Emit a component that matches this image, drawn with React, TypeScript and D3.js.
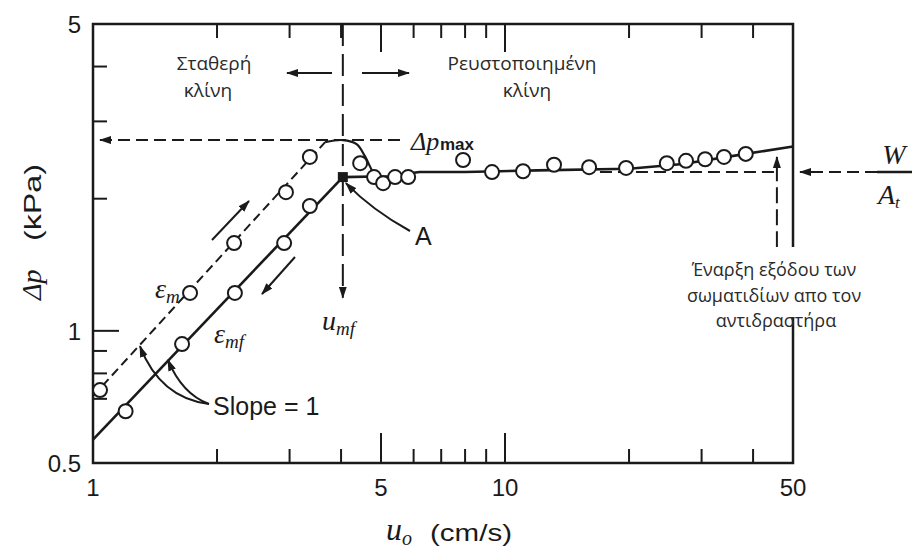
import React from "react";
import * as d3 from "d3";

const WIDTH = 912;
const HEIGHT = 551;

// axes (log-log)
const uDomain: [number, number] = [1, 50];
const dpDomain: [number, number] = [0.5, 5];
const uTickLabels = [1, 5, 10, 50];
const uTicksLong = [5, 10];
const uTicksShort = [2, 3, 4, 6, 7, 8, 9, 20, 30, 40];
const dpTickLabels = [0.5, 1, 5];
const dpTicksLong = [1];
const dpTicksShort = [0.7, 0.8, 0.9, 2, 3, 4];

// fixed bed, increasing velocity (eps_m)
const upU = [1.04, 1.72, 2.2, 2.94, 3.36];
const upDp = [0.733, 1.22, 1.585, 2.07, 2.49];
const upLineU = [1, 3.66];
const upLineDp = [0.71, 2.69];

// fixed bed, decreasing velocity (eps_mf)
const downU = [1.2, 1.645, 2.21, 2.91, 3.36];
const downDp = [0.656, 0.933, 1.22, 1.585, 1.925];
const downLineU = [1, 4.04];
const downLineDp = [0.565, 2.24];

// point A (minimum fluidization)
const umf = 4.04;
const dpA = 2.24;
const dpMax = 2.72;

// pressure overshoot near u_mf
const peakU = [3.66, 4.04, 4.37, 4.57, 4.81, 5.06, 5.41, 5.9];
const peakDp = [2.69, 2.72, 2.66, 2.5, 2.28, 2.18, 2.22, 2.25];

// fluidized bed
const fluidU = [4.45, 4.81, 5.06, 5.41, 5.82, 7.91, 9.3, 11.06, 13.15, 16.0, 19.67, 24.7, 27.5, 30.6, 34.0, 38.4];
const fluidDp = [2.41, 2.24, 2.17, 2.24, 2.24, 2.45, 2.3, 2.31, 2.39, 2.36, 2.35, 2.41, 2.44, 2.46, 2.49, 2.53];
const fluidLineU = [4.04, 5.2, 6.2, 8, 12, 20, 27, 38.4, 50];
const fluidLineDp = [2.24, 2.25, 2.3, 2.3, 2.32, 2.34, 2.4, 2.53, 2.63];

// W/A_t level and onset of carryover
const wOverA = 2.3;
const wLineU = [17, 45.7];
const onsetU = 45.7;
const onsetDp = [1.55, 2.49];

const zip = (a: number[], b: number[]): [number, number][] => a.map((v, i) => [v, b[i]]);

const sans = "'Liberation Sans', Arial, sans-serif";
const serif = "'Liberation Serif', 'Times New Roman', serif";
const greek = "'Open Sans', 'Noto Sans', sans-serif";
const ink = "#1a1a1a";

export default function App() {
  const x = d3.scaleLog().domain(uDomain).range([93, 793]);
  const y = d3.scaleLog().domain(dpDomain).range([463, 24]);
  const line = d3.line<[number, number]>().x(d => x(d[0])).y(d => y(d[1]));
  const smooth = d3
    .line<[number, number]>()
    .x(d => x(d[0]))
    .y(d => y(d[1]))
    .curve(d3.curveCatmullRom);

  const [x0, x1] = x.range();
  const [yb, yt] = y.range();

  // slope arrow targets on the two lines
  const slopeUpTip = [x(1.3), y(0.71 * 1.3)];
  const slopeDownTip = [x(1.52), y(0.565 * 1.52)];

  return (
    <svg
      width={WIDTH}
      height={HEIGHT}
      style={{ position: "absolute", left: 0, top: 0, background: "#fff" }}
    >
      <defs>
        <marker
          id="ah"
          viewBox="0 0 12 8"
          refX="11"
          refY="4"
          markerWidth="12"
          markerHeight="8"
          markerUnits="userSpaceOnUse"
          orient="auto"
        >
          <path d="M0,0 L12,4 L0,8 z" fill={ink} />
        </marker>
      </defs>
      <rect width={WIDTH} height={HEIGHT} fill="#fff" />

      {/* frame */}
      <rect x={x0} y={yt} width={x1 - x0} height={yb - yt} fill="none" stroke={ink} strokeWidth={2.5} />

      {/* x ticks, bottom and top */}
      <g stroke={ink} strokeWidth={2}>
        {uTicksShort.map(t => (
          <g key={"us" + t}>
            <line x1={x(t)} x2={x(t)} y1={yb} y2={yb - 14} />
            <line x1={x(t)} x2={x(t)} y1={yt} y2={yt + 14} />
          </g>
        ))}
        {uTicksLong.map(t => (
          <g key={"ul" + t}>
            <line x1={x(t)} x2={x(t)} y1={yb} y2={yb - 30} />
            <line x1={x(t)} x2={x(t)} y1={yt} y2={yt + 28} />
          </g>
        ))}
        {dpTicksShort.map(t => (
          <line key={"ds" + t} x1={x0} x2={x0 + 14} y1={y(t)} y2={y(t)} />
        ))}
        {dpTicksLong.map(t => (
          <line key={"dl" + t} x1={x0} x2={x0 + 26} y1={y(t)} y2={y(t)} />
        ))}
      </g>

      <g fill={ink} fontFamily={sans} fontSize={24}>
        {uTickLabels.map(t => (
          <text key={"ul" + t} x={x(t)} y={yb + 33} textAnchor="middle">
            {t}
          </text>
        ))}
        {dpTickLabels.map(t => (
          <text key={"dl" + t} x={x0 - 12} y={y(t) + 9} textAnchor="end">
            {t}
          </text>
        ))}
      </g>

      {/* axis titles */}
      <g fill={ink}>
        <text x={386} y={540} fontFamily={serif} fontStyle="italic" fontSize={32}>
          u
          <tspan fontSize={20} dy={5}>o</tspan>
        </text>
        <text x={430} y={541} fontFamily={sans} fontSize={24} textLength={82} lengthAdjust="spacingAndGlyphs">
          (cm/s)
        </text>
        <text transform="translate(41,300) rotate(-90)" fontFamily={serif} fontStyle="italic" fontSize={28}>
          Δp
        </text>
        <text
          transform="translate(41,241) rotate(-90)"
          fontFamily={sans}
          fontSize={24}
          textLength={77}
          lengthAdjust="spacingAndGlyphs"
        >
          (kPa)
        </text>
      </g>

      {/* reference dashed lines */}
      <g fill="none" stroke={ink} strokeWidth={2}>
        <line
          x1={x(5.56)}
          x2={x(1.04)}
          y1={y(dpMax)}
          y2={y(dpMax)}
          strokeDasharray="12,6"
          markerEnd="url(#ah)"
        />
        <line
          x1={x(umf)}
          x2={x(umf)}
          y1={yt}
          y2={y(1.19)}
          strokeDasharray="22,8"
          markerEnd="url(#ah)"
        />
        <line x1={x(wLineU[0])} x2={x(wLineU[1])} y1={y(wOverA)} y2={y(wOverA)} strokeDasharray="12,6" />
        <line
          x1={x(onsetU)}
          x2={x(onsetU)}
          y1={y(onsetDp[0])}
          y2={y(onsetDp[1])}
          strokeDasharray="16,6"
          markerEnd="url(#ah)"
        />
        <line x1={877} x2={800} y1={y(wOverA)} y2={y(wOverA)} strokeDasharray="12,6" markerEnd="url(#ah)" />
        <line x1={877} x2={912} y1={y(wOverA)} y2={y(wOverA)} strokeWidth={2.5} />
      </g>

      {/* curves */}
      <g fill="none" stroke={ink}>
        <path d={line(zip(upLineU, upLineDp)) ?? ""} strokeWidth={2} strokeDasharray="9,5" />
        <path d={line(zip(downLineU, downLineDp)) ?? ""} strokeWidth={2.6} />
        <path d={smooth(zip(peakU, peakDp)) ?? ""} strokeWidth={2.2} />
        <path d={line(zip(fluidLineU, fluidLineDp)) ?? ""} strokeWidth={2.6} />
      </g>

      {/* data points */}
      <g fill="#fff" stroke={ink} strokeWidth={2}>
        {zip(upU, upDp).map((d, i) => (
          <circle key={"u" + i} cx={x(d[0])} cy={y(d[1])} r={7} />
        ))}
        {zip(downU, downDp).map((d, i) => (
          <circle key={"d" + i} cx={x(d[0])} cy={y(d[1])} r={7} />
        ))}
        {zip(fluidU, fluidDp).map((d, i) => (
          <circle key={"f" + i} cx={x(d[0])} cy={y(d[1])} r={7} />
        ))}
      </g>
      <rect x={x(umf) - 5} y={y(dpA) - 5} width={10} height={10} fill={ink} />

      {/* annotation arrows */}
      <g fill="none" stroke={ink} strokeWidth={2}>
        <line x1={212} y1={240} x2={249} y2={201} markerEnd="url(#ah)" />
        <line x1={295} y1={257} x2={262} y2={294} markerEnd="url(#ah)" />
        <line x1={332} y1={73} x2={287} y2={73} markerEnd="url(#ah)" />
        <line x1={362} y1={73} x2={409} y2={73} markerEnd="url(#ah)" />
        <path d={`M209,404 Q160,398 ${slopeUpTip[0]},${slopeUpTip[1]}`} markerEnd="url(#ah)" />
        <path d={`M209,404 Q182,394 ${slopeDownTip[0]},${slopeDownTip[1]}`} markerEnd="url(#ah)" />
        <path d={`M410,231 Q372,210 ${x(umf) + 3},${y(dpA) + 6}`} markerEnd="url(#ah)" />
      </g>

      {/* labels */}
      <g fill={ink}>
        <text x={213} y={415} fontFamily={sans} fontSize={25}>
          Slope = 1
        </text>
        <text x={415} y={245} fontFamily={sans} fontSize={25}>
          A
        </text>
        <text x={155} y={298} fontFamily={serif} fontStyle="italic" fontSize={28}>
          ε<tspan fontSize={19} dy={5}>m</tspan>
        </text>
        <text x={214} y={343} fontFamily={serif} fontStyle="italic" fontSize={28}>
          ε<tspan fontSize={19} dy={5}>mf</tspan>
        </text>
        <text x={322} y={330} fontFamily={serif} fontStyle="italic" fontSize={28}>
          u<tspan fontSize={19} dy={5}>mf</tspan>
        </text>
        <text x={411} y={150} fontFamily={serif} fontStyle="italic" fontSize={26}>
          Δp
        </text>
        <text x={440} y={150} fontFamily={sans} fontWeight="bold" fontSize={17}>
          max
        </text>
        <text x={894} y={164} fontFamily={serif} fontStyle="italic" fontSize={28} textAnchor="middle">
          W
        </text>
        <text x={878} y={204} fontFamily={serif} fontStyle="italic" fontSize={28}>
          A<tspan fontSize={17} dy={4}>t</tspan>
        </text>
      </g>

      {/* region notes */}
      <rect x={668} y={247} width={204} height={70} fill="#fff" />
      <g fill="#2a2a2a" fontFamily={greek} textAnchor="middle">
        <g fontSize={19}>
          <text x={214} y={70}>Σταθερή</text>
          <text x={208} y={97}>κλίνη</text>
          <text x={522} y={70}>Ρευστοποιημένη</text>
          <text x={527} y={97}>κλίνη</text>
        </g>
        <g fontSize={18}>
          <text x={774} y={276}>Έναρξη εξόδου των</text>
          <text x={774} y={302}>σωματιδίων απο τον</text>
          <text x={776} y={327}>αντιδραστήρα</text>
        </g>
      </g>
    </svg>
  );
}
